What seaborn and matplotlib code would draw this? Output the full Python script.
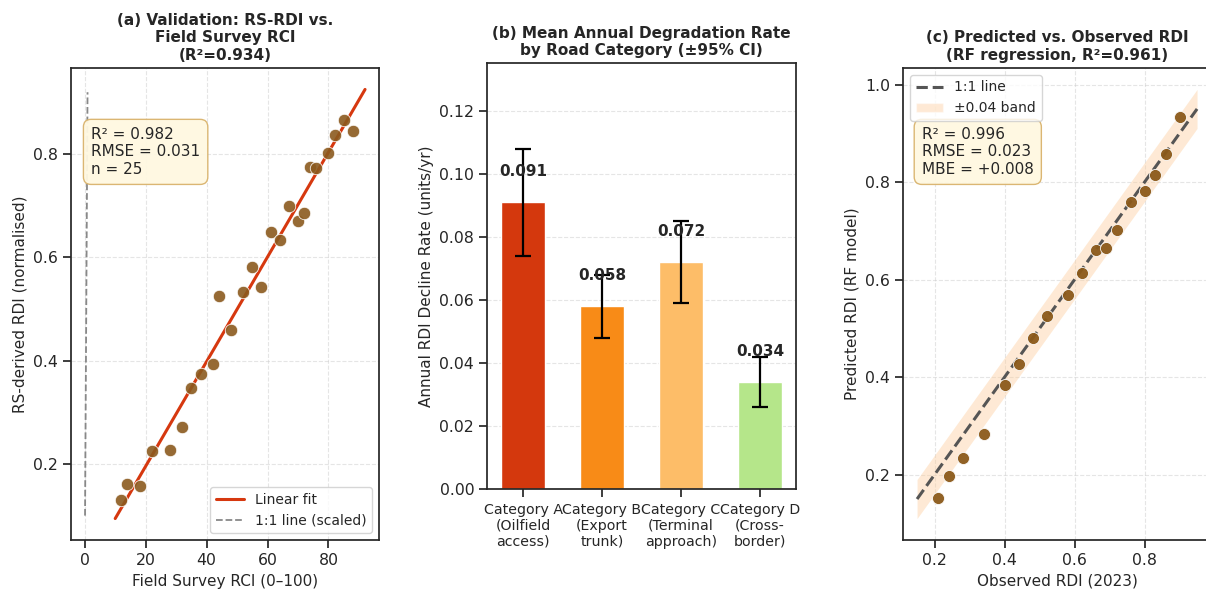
import numpy as np
import pandas as pd
from matplotlib import pyplot as plt
from matplotlib.lines import Line2D
from matplotlib.patches import Patch
import seaborn as sns

sns.set_theme(style="ticks")
plt.rcParams['font.family'] = ['DejaVu Sans']

# ---- Data ----
# (a) validation: field survey RCI vs remote-sensing RDI
field_rci = [12, 14, 18, 22, 28, 32, 35, 38, 42, 44, 48, 52, 55,
             58, 61, 64, 67, 70, 72, 74, 76, 80, 82, 85, 88]
rs_rdi = [0.131, 0.161, 0.157, 0.226, 0.227, 0.271, 0.348, 0.374, 0.394,
          0.525, 0.460, 0.533, 0.582, 0.542, 0.649, 0.634, 0.700, 0.671,
          0.687, 0.775, 0.774, 0.803, 0.838, 0.866, 0.844]
fit_range = [10, 92]
one_to_one_scaled = [0.10, 0.92]
stats_a = "R² = 0.982\nRMSE = 0.031\nn = 25"

# (b) degradation rate by road category
categories = ["Category A\n(Oilfield\naccess)", "Category B\n(Export\ntrunk)",
              "Category C\n(Terminal\napproach)", "Category D\n(Cross-\nborder)"]
decline_rate = [0.091, 0.058, 0.072, 0.034]
ci95 = [0.017, 0.010, 0.013, 0.008]
bar_colors = ['#d4380d', '#f88b17', '#fdbd68', '#b5e68a']

# (c) RF model predicted vs observed
observed_rdi = [0.21, 0.24, 0.28, 0.34, 0.40, 0.44, 0.48, 0.52, 0.58,
                0.62, 0.66, 0.69, 0.72, 0.76, 0.80, 0.83, 0.86, 0.90]
predicted_rdi = [0.153, 0.197, 0.235, 0.283, 0.384, 0.426, 0.480, 0.525, 0.569,
                 0.613, 0.661, 0.664, 0.701, 0.759, 0.782, 0.815, 0.857, 0.933]
line_range_c = [0.15, 0.95]
band_width = 0.04
stats_c = "R² = 0.996\nRMSE = 0.023\nMBE = +0.008"

point_color = '#8b5a1e'
box_style = dict(boxstyle='round,pad=0.5', facecolor='#fff8e1', edgecolor='#d9b36c', alpha=0.95)

fig = plt.figure(figsize=(12.06, 5.99), dpi=100)
ax_a = fig.add_axes([0.0589, 0.0985, 0.2554, 0.788])
ax_b = fig.add_axes([0.4041, 0.1831, 0.2557, 0.7112])
ax_c = fig.add_axes([0.7488, 0.0985, 0.2554, 0.788])

# ---- (a) ----
df_a = pd.DataFrame({'rci': field_rci, 'rdi': rs_rdi})
slope, intercept = np.polyfit(df_a['rci'], df_a['rdi'], 1)
xs = np.linspace(fit_range[0], fit_range[1], 50)
ax_a.plot(one_to_one_scaled, one_to_one_scaled, linestyle='--', color='#888888', linewidth=1.3)
ax_a.plot(xs, slope * xs + intercept, color='#d6380f', linewidth=2.2)
sns.scatterplot(data=df_a, x='rci', y='rdi', color=point_color, s=80, alpha=0.9,
                edgecolor='white', linewidth=0.6, ax=ax_a, zorder=3)
ax_a.set_title("(a) Validation: RS-RDI vs.\nField Survey RCI\n(R²=0.934)",
               fontsize=11, fontweight='bold')
ax_a.set_xlabel("Field Survey RCI (0–100)", fontsize=11)
ax_a.set_ylabel("RS-derived RDI (normalised)", fontsize=11)
ax_a.grid(True, linestyle='--', alpha=0.5, linewidth=0.8)
ax_a.text(0.065, 0.875, stats_a, transform=ax_a.transAxes, fontsize=11,
          va='top', ha='left', bbox=box_style)
handles_a = [Line2D([], [], color='#d6380f', linewidth=2.2, label='Linear fit'),
             Line2D([], [], color='#888888', linestyle='--', linewidth=1.3, label='1:1 line (scaled)')]
ax_a.legend(handles=handles_a, loc='lower right', fontsize=10)

# ---- (b) ----
sns.barplot(x=categories, y=decline_rate, hue=categories, palette=bar_colors,
            width=0.55, saturation=1, legend=False, edgecolor='white', linewidth=1,
            ax=ax_b, zorder=2)
ax_b.errorbar(range(len(categories)), decline_rate, yerr=ci95, fmt='none',
              ecolor='black', elinewidth=1.6, capsize=6, capthick=1.6, zorder=3)
for i, v in enumerate(decline_rate):
    ax_b.text(i, v + 0.0097, f"{v:.3f}", ha='center', va='center',
              fontsize=11, fontweight='bold', zorder=4)
ax_b.set_ylim(0, max(np.array(decline_rate) + np.array(ci95)) * 1.25)
ax_b.set_title("(b) Mean Annual Degradation Rate\nby Road Category (±95% CI)",
               fontsize=11, fontweight='bold')
ax_b.set_ylabel("Annual RDI Decline Rate (units/yr)", fontsize=11)
ax_b.yaxis.grid(True, linestyle='--', alpha=0.5, linewidth=0.8)
ax_b.set_axisbelow(True)
ax_b.tick_params(axis='x', labelsize=10.2)

# ---- (c) ----
df_c = pd.DataFrame({'obs': observed_rdi, 'pred': predicted_rdi})
lx = np.array(line_range_c)
ax_c.fill_between(lx, lx - band_width, lx + band_width, color='#fdd0a2', alpha=0.45, linewidth=0)
ax_c.plot(lx, lx, linestyle='--', color='#555555', linewidth=2.2)
sns.scatterplot(data=df_c, x='obs', y='pred', color='#8b5a1a', s=75, alpha=0.95,
                edgecolor='white', linewidth=0.6, ax=ax_c, zorder=3)
ax_c.set_title("(c) Predicted vs. Observed RDI\n(RF regression, R²=0.961)",
               fontsize=11, fontweight='bold')
ax_c.set_xlabel("Observed RDI (2023)", fontsize=11)
ax_c.set_ylabel("Predicted RDI (RF model)", fontsize=11)
ax_c.grid(True, linestyle='--', alpha=0.5, linewidth=0.8)
handles_c = [Line2D([], [], color='#555555', linestyle='--', linewidth=2.2, label='1:1 line'),
             Patch(facecolor='#fdd0a2', alpha=0.45, label='±0.04 band')]
ax_c.legend(handles=handles_c, loc='upper left', fontsize=10)
ax_c.text(0.061, 0.875, stats_c, transform=ax_c.transAxes, fontsize=11,
          va='top', ha='left', bbox=box_style)

for ax in (ax_a, ax_b, ax_c):
    ax.tick_params(axis='y', labelsize=11.3)
    if ax is not ax_b:
        ax.tick_params(axis='x', labelsize=11.3)

plt.savefig('out.png', dpi=100)
